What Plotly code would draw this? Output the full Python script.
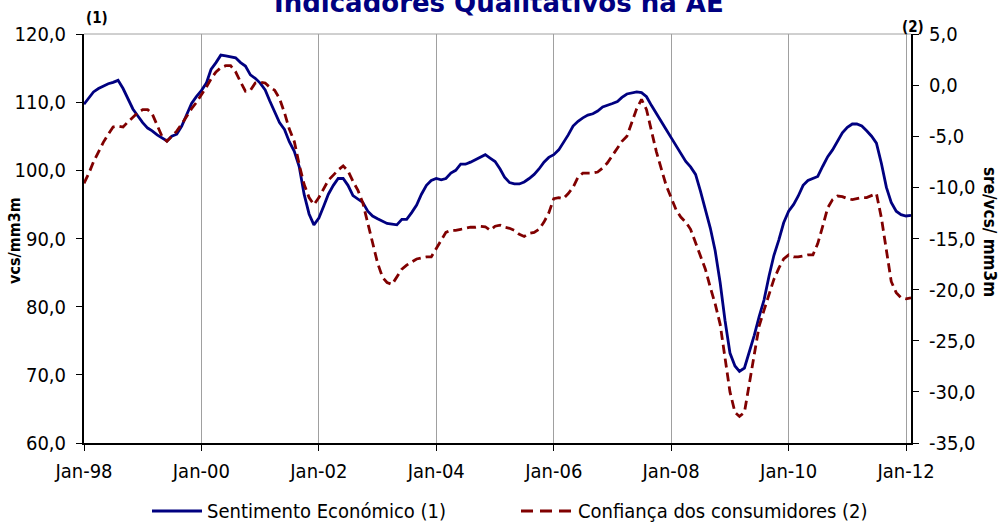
import plotly.graph_objects as go
import pandas as pd

start_month = "1998-01-01"
n_months = 170

sentimento = [
    109.7, 110.7, 111.5, 112.0, 112.4, 112.7, 112.9, 113.2, 112.0, 110.5,
    109.0, 108.0, 107.0, 106.2, 105.8, 105.2, 104.8, 104.3, 105.0, 105.3,
    106.5, 108.0, 109.8, 110.8, 111.7, 112.8, 114.8, 115.8, 116.9, 116.8,
    116.7, 116.5, 115.8, 115.3, 114.0, 113.5, 112.8, 111.8, 110.2, 108.5,
    107.0, 106.0, 104.2, 102.8, 100.5, 96.5, 93.6, 92.0, 93.0, 94.8,
    96.5, 97.8, 98.8, 98.8, 97.8, 96.3, 95.8, 95.3, 94.0, 93.3,
    92.9, 92.5, 92.2, 92.1, 92.0, 92.8, 92.8, 93.8, 94.9, 96.5,
    97.8, 98.5, 98.8, 98.6, 98.8, 99.6, 100.0, 100.9, 100.9, 101.2,
    101.6, 102.0, 102.3, 101.8, 101.3, 100.2, 99.0, 98.2, 98.0, 98.0,
    98.3, 98.8, 99.4, 100.2, 101.2, 101.9, 102.3, 103.0, 104.0, 105.2,
    106.5, 107.2, 107.7, 108.1, 108.3, 108.7, 109.3, 109.6, 109.8, 110.1,
    110.7, 111.2, 111.4, 111.5, 111.4, 110.8, 109.5, 108.3, 107.0, 106.0,
    104.8, 103.6, 102.3, 101.3, 100.5, 99.4, 97.0, 94.4, 91.5, 88.2,
    83.5, 78.0, 73.2, 71.3, 70.5, 71.0, 73.2, 75.8, 78.5, 81.0,
    84.5, 87.5, 89.8, 92.3, 94.0, 95.0, 96.2, 97.8, 98.5, 98.8,
    99.1, 100.6, 102.0, 103.0, 104.2, 105.5, 106.3, 106.8, 106.8, 106.5,
    105.8, 105.0, 104.0, 101.0, 97.5, 95.3, 94.0, 93.5, 93.3, 93.4,
]

consumidores = [
    -9.6, -8.6, -7.5, -6.5, -5.6, -4.8, -4.1, -4.0, -4.1, -3.6,
    -3.1, -2.7, -2.4, -2.4, -2.8, -3.9, -5.0, -5.5, -5.0, -4.5,
    -3.8, -3.0, -2.3, -1.7, -1.0, -0.2, 0.6, 1.3, 1.7, 1.9,
    1.9, 1.3, 0.3, -0.6, -0.5, 0.2, 0.3, 0.2, -0.2, -0.5,
    -1.3, -2.7, -4.3, -5.5, -7.8, -9.7, -11.0, -11.7, -11.0, -10.1,
    -9.3, -8.8, -8.3, -7.9, -8.4, -9.4, -10.3, -11.5, -13.5, -15.5,
    -17.4, -18.8, -19.3, -19.5, -18.8, -18.0, -17.6, -17.3, -17.0, -16.9,
    -16.8, -16.8, -16.0, -15.2, -14.4, -14.2, -14.2, -14.1, -14.0, -13.9,
    -13.9, -13.8, -13.85, -14.2, -13.8, -13.7, -13.9, -14.0, -14.2, -14.6,
    -14.8, -14.5, -14.4, -14.1, -13.4, -12.5, -11.1, -11.0, -11.1, -10.6,
    -10.0, -9.0, -8.6, -8.6, -8.6, -8.5, -8.1, -7.6, -6.9, -6.1,
    -5.5, -5.0, -3.6, -2.3, -1.4, -2.4, -4.5, -6.5, -8.2, -9.8,
    -11.0, -12.2, -12.9, -13.4, -14.1, -15.4, -16.6, -18.0, -19.8, -21.4,
    -23.4, -26.5, -30.0, -32.0, -32.4, -32.0, -29.2, -26.0, -23.6, -22.0,
    -20.4, -19.0, -17.9, -17.0, -16.6, -16.8, -16.8, -16.7, -16.6, -16.6,
    -15.5, -13.8, -12.0, -11.2, -10.85, -10.9, -11.1, -11.2, -11.1, -11.0,
    -11.0, -10.8, -10.6, -13.0, -16.0, -19.2, -20.3, -20.8, -20.9, -20.8,
]

left_ticks = [60, 70, 80, 90, 100, 110, 120]
left_labels = ["60,0", "70,0", "80,0", "90,0", "100,0", "110,0", "120,0"]
right_ticks = [-35, -30, -25, -20, -15, -10, -5, 0, 5]
right_labels = ["-35,0", "-30,0", "-25,0", "-20,0", "-15,0", "-10,0", "-5,0", "0,0", "5,0"]

title_text = "Indicadores Qualitativos na AE"
name_se = "Sentimento Económico (1)"
name_cc = "Confiança dos consumidores (2)"
left_title = "vcs/mm3m"
right_title = "sre/vcs/ mm3m"

dates = pd.date_range(start_month, periods=n_months, freq="MS")

FONT = "DejaVu Sans Condensed, DejaVu Sans, sans-serif"
SE_COLOR = "#000080"
CC_COLOR = "#800000"
CC_DASH = "9px,5px"

# plot-area geometry in pixels (used to place legend/labels)
L, R, T, B = 84, 911, 34, 443
PW, PH = R - L, B - T


def px_x(x):
    return (x - L) / PW


def px_y(y):
    return (B - y) / PH


fig = go.Figure()
fig.add_trace(go.Scatter(x=dates, y=sentimento, name=name_se, mode="lines",
                         line=dict(color=SE_COLOR, width=2.8), yaxis="y"))
fig.add_trace(go.Scatter(x=dates, y=consumidores, name=name_cc, mode="lines",
                         line=dict(color=CC_COLOR, width=2.8, dash=CC_DASH), yaxis="y2"))

fig.update_layout(
    width=1002, height=522,
    margin=dict(l=L, r=1002 - R, t=T, b=522 - B),
    paper_bgcolor="white", plot_bgcolor="white",
    font=dict(family=FONT, size=20, color="black"),
    showlegend=False,
    xaxis=dict(type="date", range=[dates[0], dates[-1]],
               tick0=start_month, dtick="M24", tickformat="%b-%y",
               tickfont=dict(size=20), automargin=False,
               showgrid=True, gridcolor="#a0a0a0", gridwidth=1,
               showline=True, linecolor="black", linewidth=2,
               ticks="outside", ticklen=6, tickcolor="black", tickwidth=1,
               ticklabelstandoff=3, zeroline=False),
    yaxis=dict(range=[60, 120], tickvals=left_ticks, ticktext=left_labels,
               showgrid=False, zeroline=False, automargin=False,
               showline=True, linecolor="black", linewidth=2,
               ticks="outside", ticklen=6, tickcolor="black",
               ticklabelstandoff=6),
    yaxis2=dict(range=[-35, 5], tickvals=right_ticks, ticktext=right_labels,
                overlaying="y", side="right", showgrid=False, zeroline=False,
                automargin=False,
                showline=True, linecolor="black", linewidth=2,
                ticks="outside", ticklen=6, tickcolor="black",
                ticklabelstandoff=6),
)

# top border of plot area (grey)
fig.add_shape(type="line", xref="paper", yref="paper", x0=0, x1=1, y0=1, y1=1,
              line=dict(color="#a0a0a0", width=1))

# legend drawn below the axis: line samples + labels
leg_y = px_y(511)
fig.add_shape(type="line", xref="paper", yref="paper", x0=px_x(152), x1=px_x(202),
              y0=leg_y, y1=leg_y, line=dict(color=SE_COLOR, width=2.8))
fig.add_annotation(text=name_se, xref="paper", yref="paper", x=px_x(205), y=leg_y,
                   xanchor="left", yanchor="middle", showarrow=False, font=dict(size=20))
fig.add_shape(type="line", xref="paper", yref="paper", x0=px_x(521), x1=px_x(573),
              y0=leg_y, y1=leg_y, line=dict(color=CC_COLOR, width=2.8, dash="12px,7px"))
fig.add_annotation(text=name_cc, xref="paper", yref="paper", x=px_x(576), y=leg_y,
                   xanchor="left", yanchor="middle", showarrow=False, font=dict(size=20))

fig.add_annotation(text="<b>" + title_text + "</b>", xref="paper", yref="paper",
                   x=px_x(499), y=px_y(3), xanchor="center", yanchor="middle",
                   showarrow=False,
                   font=dict(size=26, color=SE_COLOR, family="DejaVu Sans, sans-serif"))
fig.add_annotation(text="<b>(1)</b>", xref="paper", yref="paper", x=0.0, y=1.0,
                   xanchor="left", yanchor="bottom", showarrow=False,
                   font=dict(size=15), yshift=5)
fig.add_annotation(text="<b>(2)</b>", xref="paper", yref="paper", x=1.003, y=1.0,
                   xanchor="center", yanchor="bottom", showarrow=False,
                   font=dict(size=15), yshift=-4)
fig.add_annotation(text="<b>" + left_title + "</b>", xref="paper", yref="paper",
                   x=px_x(14), y=px_y(241), xanchor="center", yanchor="middle",
                   textangle=-90, showarrow=False, font=dict(size=16))
fig.add_annotation(text="<b>" + right_title + "</b>", xref="paper", yref="paper",
                   x=px_x(990), y=px_y(232), xanchor="center", yanchor="middle",
                   textangle=90, showarrow=False, font=dict(size=17))

fig.write_html("out.html", config={"displayModeBar": False},
               post_script="document.body.style.margin='0';document.body.style.padding='0';")
